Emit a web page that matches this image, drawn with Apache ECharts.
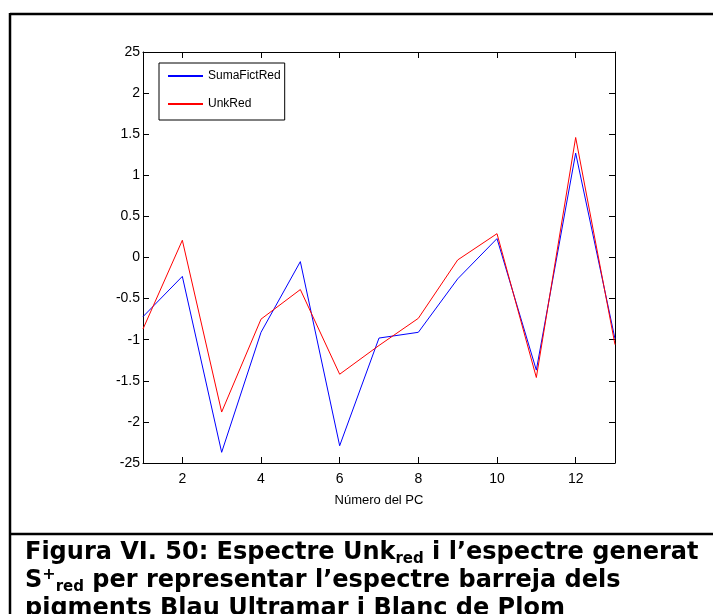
<!DOCTYPE html>
<html>
<head>
<meta charset="utf-8">
<script src="https://cdn.jsdelivr.net/npm/echarts@6/dist/echarts.min.js"></script>
<style>
html,body{margin:0;padding:0;background:#fff;}
#c{width:713px;height:614px;}
</style>
</head>
<body>
<div id="c"></div>
<script>
// ---- data ----
var pcNumbers = [1, 2, 3, 4, 5, 6, 7, 8, 9, 10, 11, 12, 13];
var sumaFictRed = [-0.72, -0.23, -2.37, -0.91, -0.05, -2.29, -0.98, -0.91, -0.26, 0.23, -1.37, 1.27, -0.99];
var unkRed = [-0.87, 0.21, -1.88, -0.75, -0.39, -1.42, -1.07, -0.74, -0.03, 0.29, -1.46, 1.46, -1.06];
var seriesNames = ['SumaFictRed', 'UnkRed'];
var xTickValues = [2, 4, 6, 8, 10, 12];
var yTickLabels = ['-25', '-2', '-1.5', '-1', '-0.5', '0', '0.5', '1', '1.5', '2', '25'];
var xAxisName = 'Número del PC';

var narrow = "'Liberation Sans Narrow', 'Liberation Sans', Arial, sans-serif";
var capFont = "'DejaVu Sans', Verdana, sans-serif";

function pairs(ys) {
  return pcNumbers.map(function (x, i) { return [x, ys[i]]; });
}

var chart = echarts.init(document.getElementById('c'), null, {renderer: 'canvas'});

var axisCommon = {
  axisLine: {show: true, onZero: false, lineStyle: {color: '#000', width: 1}},
  splitLine: {show: false}
};

var option = {
  animation: false,
  backgroundColor: '#fff',
  grid: {left: 143, top: 52, right: 98, bottom: 151, containLabel: false},
  legend: {
    orient: 'vertical',
    left: 159,
    top: 63,
    data: seriesNames,
    backgroundColor: '#fff',
    borderColor: '#000',
    borderWidth: 1,
    borderRadius: 0,
    padding: [7, 4, 10, 8],
    itemWidth: 35,
    itemHeight: 14,
    itemGap: 16,
    itemStyle: {opacity: 0},
    textStyle: {fontFamily: narrow, fontSize: 12, color: '#000'}
  },
  xAxis: [
    Object.assign({
      type: 'value', min: 1, max: 13, position: 'bottom',
      name: xAxisName, nameLocation: 'middle', nameGap: 31,
      nameTextStyle: {fontFamily: narrow, fontSize: 13, color: '#000'},
      axisTick: {show: true, inside: true, length: 6, customValues: xTickValues, lineStyle: {color: '#000'}},
      axisLabel: {show: true, customValues: xTickValues, margin: 9, fontFamily: narrow, fontSize: 14, color: '#000'}
    }, axisCommon),
    Object.assign({
      type: 'value', min: 1, max: 13, position: 'top',
      axisTick: {show: true, inside: true, length: 6, customValues: xTickValues, lineStyle: {color: '#000'}},
      axisLabel: {show: false}
    }, axisCommon)
  ],
  yAxis: [
    Object.assign({
      type: 'value', min: -2.5, max: 2.5, interval: 0.5, position: 'left',
      axisTick: {show: true, inside: true, length: 6, lineStyle: {color: '#000'}},
      axisLabel: {
        show: true, margin: 3, fontFamily: narrow, fontSize: 14, color: '#000',
        formatter: function (v) { return yTickLabels[Math.round((v + 2.5) / 0.5)]; }
      }
    }, axisCommon),
    Object.assign({
      type: 'value', min: -2.5, max: 2.5, interval: 0.5, position: 'right',
      axisTick: {show: true, inside: true, length: 6, lineStyle: {color: '#000'}},
      axisLabel: {show: false}
    }, axisCommon)
  ],
  series: [
    {
      name: seriesNames[0], type: 'line', data: pairs(sumaFictRed),
      symbol: 'none', lineStyle: {color: '#0000ff', width: 1}, itemStyle: {color: '#0000ff'}
    },
    {
      name: seriesNames[1], type: 'line', data: pairs(unkRed),
      symbol: 'none', lineStyle: {color: '#ff0000', width: 1}, itemStyle: {color: '#ff0000'}
    }
  ],
  graphic: [
    {type: 'line', shape: {x1: 10, y1: 14, x2: 713, y2: 14}, style: {stroke: '#000', lineWidth: 2.5}},
    {type: 'line', shape: {x1: 10, y1: 13, x2: 10, y2: 614}, style: {stroke: '#000', lineWidth: 2.5}},
    {type: 'line', shape: {x1: 10, y1: 534, x2: 713, y2: 534}, style: {stroke: '#000', lineWidth: 2.5}},
    {
      type: 'text', left: 25, top: 541,
      style: {
        text: '{a|Figura VI. 50: Espectre Unk}{s|red}{a| i l\u2019espectre generat}\n' +
              '{a|S}{p|+}{s|red}{a| per representar l\u2019espectre barreja dels}\n' +
              '{a|pigments Blau Ultramar i Blanc de Plom}',
        fill: '#000',
        rich: {
          a: {fontFamily: capFont, fontWeight: 'bold', fontSize: 24, lineHeight: 28, fill: '#000'},
          s: {fontFamily: capFont, fontWeight: 'bold', fontSize: 15, lineHeight: 27, verticalAlign: 'bottom', fill: '#000'},
          p: {fontFamily: capFont, fontWeight: 'bold', fontSize: 16, lineHeight: 16, verticalAlign: 'top', fill: '#000'}
        }
      }
    }
  ]
};
chart.setOption(option);
</script>
</body>
</html>
